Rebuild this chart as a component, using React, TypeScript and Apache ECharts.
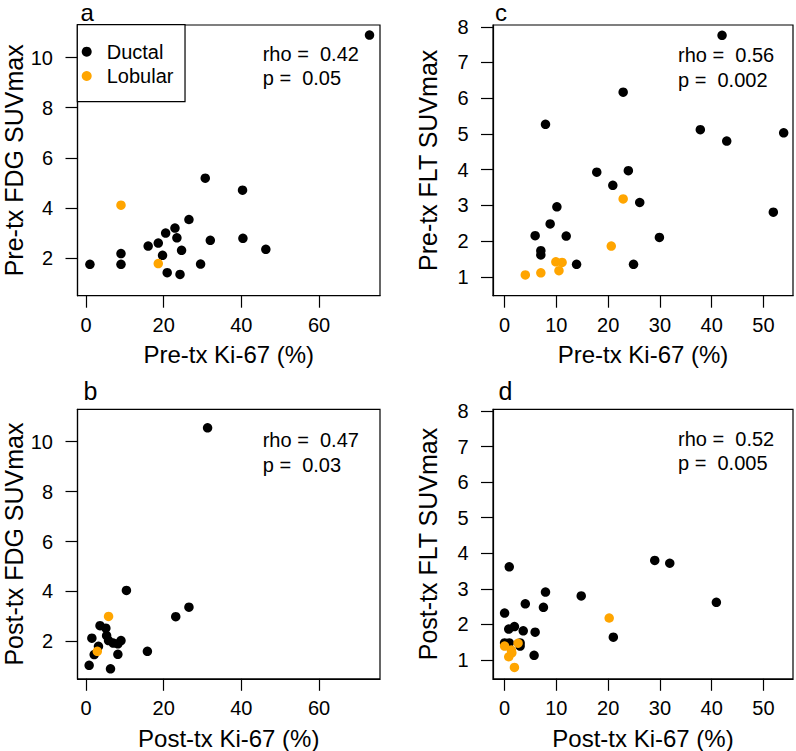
import React, { useEffect, useRef } from "react";
import * as echarts from "echarts";

const FONT = "'Liberation Sans', Arial, Helvetica, sans-serif";
const DUCTAL_COLOR = "#000000";
const LOBULAR_COLOR = "#FFA500";

// Panel a: Pre-tx Ki-67 (%) vs Pre-tx FDG SUVmax
const aDuctalX = [1.0, 9.0, 9.0, 16.0, 18.6, 19.7, 20.5, 22.9, 23.4, 24.6, 20.9, 24.2, 26.5, 30.7, 32.0, 29.5, 40.3, 40.4, 46.3, 73.0];
const aDuctalY = [1.75, 1.75, 2.18, 2.48, 2.6, 2.11, 3.0, 3.2, 2.81, 2.31, 1.42, 1.35, 3.54, 5.19, 2.71, 1.76, 4.71, 2.79, 2.35, 10.9];
const aLobularX = [9.0, 18.6];
const aLobularY = [4.11, 1.78];

// Panel b: Post-tx Ki-67 (%) vs Post-tx FDG SUVmax
const bDuctalX = [31.3, 10.4, 23.1, 26.5, 15.8, 0.8, 1.5, 2.1, 3.2, 3.6, 5.1, 5.3, 5.8, 7.0, 8.2, 9.0, 8.2, 6.3];
const bDuctalY = [10.56, 4.04, 2.99, 3.37, 1.6, 1.04, 2.13, 1.47, 1.8, 2.63, 2.53, 2.23, 2.03, 1.93, 1.9, 2.03, 1.48, 0.9];
const bLobularX = [5.8, 2.9];
const bLobularY = [3.0, 1.6];

// Panel c: Pre-tx Ki-67 (%) vs Pre-tx FLT SUVmax
const cDuctalX = [7.9, 22.9, 42.0, 37.8, 42.9, 53.9, 51.9, 17.8, 23.9, 20.9, 26.1, 29.9, 24.9, 10.1, 8.8, 5.9, 11.9, 7.0, 7.0, 13.9];
const cDuctalY = [5.27, 6.17, 7.76, 5.12, 4.8, 5.03, 2.81, 3.93, 3.97, 3.56, 3.08, 2.1, 1.35, 2.96, 2.48, 2.15, 2.14, 1.73, 1.61, 1.35];
const cLobularX = [4.0, 7.0, 9.9, 11.1, 10.5, 20.6, 22.9];
const cLobularY = [1.05, 1.11, 1.42, 1.4, 1.17, 1.86, 3.18];

// Panel d: Post-tx Ki-67 (%) vs Post-tx FLT SUVmax
const dDuctalX = [0.9, 0.0, 4.0, 7.9, 7.5, 14.8, 29.0, 31.9, 40.9, 21.0, 0.8, 1.9, 3.6, 5.9, 5.7, 0.0, 0.9, 3.0, 3.0];
const dDuctalY = [3.62, 2.32, 2.58, 2.91, 2.48, 2.8, 3.8, 3.72, 2.62, 1.64, 1.87, 1.94, 1.82, 1.78, 1.13, 1.48, 1.48, 1.39, 1.48];
const dLobularX = [20.2, 0.0, 0.8, 1.3, 1.9, 2.6, 1.4];
const dLobularY = [2.18, 1.39, 1.09, 1.28, 0.79, 1.47, 1.2];

// Tick labels
const kiTicksAB = [0, 20, 40, 60];
const kiTicksCD = [0, 10, 20, 30, 40, 50];
const fdgTicks = [2, 4, 6, 8, 10];
const fltTicks = [1, 2, 3, 4, 5, 6, 7, 8];

// Texts
const panelLetters = ["a", "b", "c", "d"];
const xTitles = ["Pre-tx Ki-67 (%)", "Post-tx Ki-67 (%)", "Pre-tx Ki-67 (%)", "Post-tx Ki-67 (%)"];
const yTitles = ["Pre-tx FDG SUVmax", "Post-tx FDG SUVmax", "Pre-tx FLT SUVmax", "Post-tx FLT SUVmax"];
const rhoValues = ["0.42", "0.47", "0.56", "0.52"];
const pValues = ["0.05", "0.03", "0.002", "0.005"];

const zip = (xs: number[], ys: number[]) => xs.map((x, i) => [x, ys[i]]);

export default function App() {
  const ref = useRef<HTMLDivElement>(null);

  useEffect(() => {
    if (!ref.current) return;
    const chart = echarts.init(ref.current, null, { renderer: "svg" });

    const grids = [
      { left: 77.5, top: 25, width: 302.5, height: 270.7 },
      { left: 77.5, top: 409.3, width: 302.5, height: 269.5 },
      { left: 493, top: 25, width: 300, height: 270.7 },
      { left: 493, top: 409.3, width: 300, height: 269.5 },
    ].map((g) => ({ ...g, show: true, borderColor: "#000", borderWidth: 1.2, backgroundColor: "transparent" }));

    const xRanges = [
      [-2.2, 75.7],
      [-2.2, 75.7],
      [-2.24, 55.7],
      [-2.24, 55.7],
    ];
    const yRanges = [
      [0.5, 11.3],
      [0.5, 11.3],
      [0.47, 8.05],
      [0.47, 8.05],
    ];
    const xTicks = [kiTicksAB, kiTicksAB, kiTicksCD, kiTicksCD];
    const yTicks = [fdgTicks, fdgTicks, fltTicks, fltTicks];
    const yNameGaps = [51, 51, 52.5, 52.5];

    const lineStyle = { color: "#000", width: 1.2 };

    const xAxis = grids.map((_, i) => ({
      gridIndex: i,
      type: "value",
      min: xRanges[i][0],
      max: xRanges[i][1],
      position: "bottom",
      axisLine: { show: true, onZero: false, lineStyle },
      axisTick: { show: true, inside: false, length: 12, customValues: xTicks[i], lineStyle },
      axisLabel: { customValues: xTicks[i], margin: 19.5, fontSize: 20, color: "#000", fontFamily: FONT },
      splitLine: { show: false },
      name: xTitles[i],
      nameLocation: "middle",
      nameGap: 47.2,
      nameTextStyle: { fontSize: 24, color: "#000", fontFamily: FONT },
    }));

    const yAxis = grids.map((_, i) => ({
      gridIndex: i,
      type: "value",
      min: yRanges[i][0],
      max: yRanges[i][1],
      position: "left",
      axisLine: { show: true, onZero: false, lineStyle },
      axisTick: { show: true, inside: false, length: 12, customValues: yTicks[i], lineStyle },
      axisLabel: { customValues: yTicks[i], margin: 24.5, fontSize: 20, color: "#000", fontFamily: FONT },
      splitLine: { show: false },
      name: yTitles[i],
      nameLocation: "middle",
      nameGap: yNameGaps[i],
      nameTextStyle: { fontSize: 25, color: "#000", fontFamily: FONT },
    }));

    const panelData = [
      [zip(aDuctalX, aDuctalY), zip(aLobularX, aLobularY)],
      [zip(bDuctalX, bDuctalY), zip(bLobularX, bLobularY)],
      [zip(cDuctalX, cDuctalY), zip(cLobularX, cLobularY)],
      [zip(dDuctalX, dDuctalY), zip(dLobularX, dLobularY)],
    ];

    const series: any[] = [];
    panelData.forEach((pd, i) => {
      series.push({
        name: "Ductal",
        type: "scatter",
        xAxisIndex: i,
        yAxisIndex: i,
        symbol: "circle",
        symbolSize: 9.5,
        itemStyle: { color: DUCTAL_COLOR, opacity: 1 },
        data: pd[0],
        z: 2,
      });
    });
    panelData.forEach((pd, i) => {
      series.push({
        name: "Lobular",
        type: "scatter",
        xAxisIndex: i,
        yAxisIndex: i,
        symbol: "circle",
        symbolSize: 9.5,
        itemStyle: { color: LOBULAR_COLOR, opacity: 1 },
        data: pd[1],
        z: 3,
      });
    });

    // [x, y, fontSize] ; letters a/c kept just inside the top edge
    const letterPos = [
      [80.5, 12.5, 24],
      [83.5, 391.3, 25],
      [495, 12.5, 24],
      [498.5, 391.3, 25],
    ];
    const statPos = [
      [262.7, 54.2, 78.3],
      [262.7, 440, 465],
      [678, 55, 80],
      [678, 439.3, 463.3],
    ];

    const graphic: any[] = [];
    panelLetters.forEach((l, i) => {
      graphic.push({
        type: "text",
        x: letterPos[i][0],
        y: letterPos[i][1],
        style: {
          text: l,
          font: `${letterPos[i][2]}px ${FONT}`,
          fill: "#000",
          textAlign: "left",
          textVerticalAlign: "middle",
          align: "left",
          verticalAlign: "middle",
        },
      });
    });
    rhoValues.forEach((r, i) => {
      graphic.push({
        type: "text",
        x: statPos[i][0],
        y: statPos[i][1],
        style: {
          text: `rho =  ${r}`,
          font: `20px ${FONT}`,
          fill: "#000",
          textAlign: "left",
          textVerticalAlign: "middle",
          align: "left",
          verticalAlign: "middle",
        },
      });
      graphic.push({
        type: "text",
        x: statPos[i][0],
        y: statPos[i][2],
        style: {
          text: `p =  ${pValues[i]}`,
          font: `20px ${FONT}`,
          fill: "#000",
          textAlign: "left",
          textVerticalAlign: "middle",
          align: "left",
          verticalAlign: "middle",
        },
      });
    });

    chart.setOption({
      animation: false,
      backgroundColor: "#ffffff",
      textStyle: { fontFamily: FONT },
      grid: grids,
      xAxis,
      yAxis,
      legend: {
        data: ["Ductal", "Lobular"],
        orient: "vertical",
        left: 77.3,
        top: 24.7,
        padding: [17, 11.6, 15.7, 4.4],
        itemGap: 4.3,
        itemWidth: 30,
        itemHeight: 10,
        icon: "circle",
        selectedMode: false,
        borderColor: "#000",
        borderWidth: 1.2,
        backgroundColor: "#fff",
        textStyle: { fontSize: 20, color: "#000", fontFamily: FONT, lineHeight: 20 },
      },
      series,
      graphic,
    });

    return () => {
      chart.dispose();
    };
  }, []);

  return (
    <div
      ref={ref}
      style={{ position: "fixed", left: 0, top: 0, width: 796, height: 751, background: "#fff" }}
    />
  );
}
